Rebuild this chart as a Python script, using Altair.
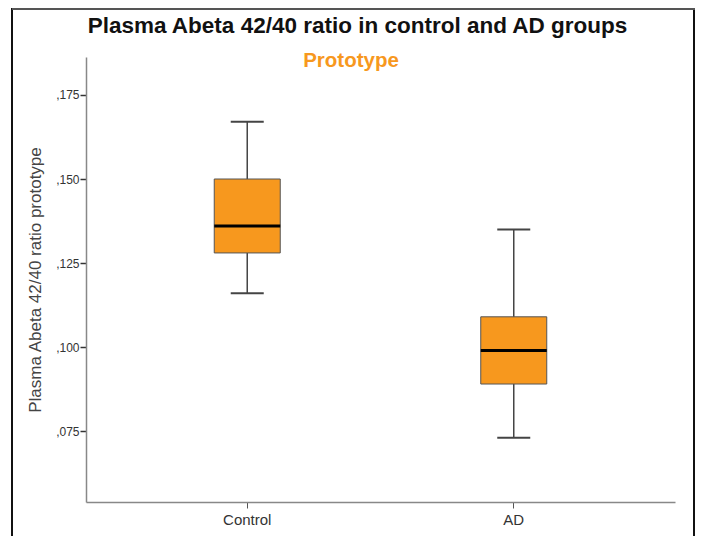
import altair as alt
import pandas as pd

groups = ["Control", "AD"]
whisker_low = [0.116, 0.073]
q1 = [0.128, 0.089]
median = [0.136, 0.099]
q3 = [0.150, 0.109]
whisker_high = [0.167, 0.135]

tick_values = [0.075, 0.100, 0.125, 0.150, 0.175]

title_text = "Plasma Abeta 42/40 ratio in control and AD groups"
subtitle_text = "Prototype"

df = pd.DataFrame({
    "group": groups,
    "low": whisker_low,
    "q1": q1,
    "median": median,
    "q3": q3,
    "high": whisker_high,
})

FONT = "Liberation Sans"
ORANGE = "#F7981E"

x_enc = alt.X("group:N", sort=groups,
              scale=alt.Scale(paddingInner=0.5, paddingOuter=0.355),
              axis=alt.Axis(title=None, labelFontSize=15, labelColor="#333",
                            labelFont=FONT, tickSize=6, tickColor="#555",
                            domainColor="#888", domainWidth=1.5, labelPadding=4,
                            labelAngle=0))
y_scale = alt.Scale(domain=[0.0539, 0.1863], nice=False, zero=False)
y_axis = alt.Axis(values=tick_values,
                  labelExpr="replace(format(datum.value, '.3f'), '0.', ',')",
                  title="Plasma Abeta 42/40 ratio prototype",
                  titleFont=FONT, titleFontSize=17, titleFontWeight="normal",
                  titleColor="#444", titlePadding=11,
                  labelFont=FONT, labelFontSize=12, labelColor="#333",
                  labelPadding=1, tickSize=6, tickColor="#333", tickWidth=1.5,
                  domainColor="#888", domainWidth=1.5, grid=False)

base = alt.Chart(df).encode(x=x_enc)

whiskers = base.mark_rule(color="#444", strokeWidth=1.5).encode(
    y=alt.Y("low:Q", scale=y_scale, axis=y_axis), y2="high:Q")
caps_low = base.mark_tick(color="#444", size=33, thickness=2, opacity=1).encode(
    y=alt.Y("low:Q", scale=y_scale))
caps_high = base.mark_tick(color="#444", size=33, thickness=2, opacity=1).encode(
    y=alt.Y("high:Q", scale=y_scale))
boxes = base.mark_bar(size=66, color=ORANGE, stroke="#555", strokeWidth=1).encode(
    y=alt.Y("q1:Q", scale=y_scale), y2="q3:Q")
medians = base.mark_tick(color="#000", size=66, thickness=3, opacity=1).encode(
    y=alt.Y("median:Q", scale=y_scale))

title_mark = alt.Chart(pd.DataFrame({"t": [title_text]})).mark_text(
    font=FONT, fontSize=22.5, fontWeight="bold", color="#111",
    baseline="alphabetic", align="center").encode(
    text="t:N", x=alt.value(271.5), y=alt.value(-24))

subtitle = alt.Chart(pd.DataFrame({"t": [subtitle_text]})).mark_text(
    font=FONT, fontSize=20.5, fontWeight="bold", color=ORANGE,
    baseline="alphabetic", align="center").encode(
    text="t:N", x=alt.value(265), y=alt.value(9.5))

frame_left = alt.Chart(pd.DataFrame({"a": [0]})).mark_rule(color="#111", strokeWidth=2).encode(
    x=alt.value(-74), y=alt.value(-49), y2=alt.value(480))
frame_right = alt.Chart(pd.DataFrame({"a": [0]})).mark_rule(color="#111", strokeWidth=2).encode(
    x=alt.value(608), y=alt.value(-49), y2=alt.value(480))
frame_top = alt.Chart(pd.DataFrame({"a": [0]})).mark_rule(color="#555", strokeWidth=2).encode(
    x=alt.value(-74), x2=alt.value(609), y=alt.value(-48))

chart = alt.layer(whiskers, caps_low, caps_high, boxes, medians, title_mark, subtitle,
                  frame_left, frame_right, frame_top).properties(
    width=589, height=445,
    padding={"left": 78, "top": 49, "right": 20, "bottom": 34},
    autosize=alt.AutoSizeParams(type="none"),
).configure(background="white", view=alt.ViewConfig(stroke="transparent", strokeWidth=0))

chart.save("out.html", embed_options={"renderer": "svg", "actions": False})
